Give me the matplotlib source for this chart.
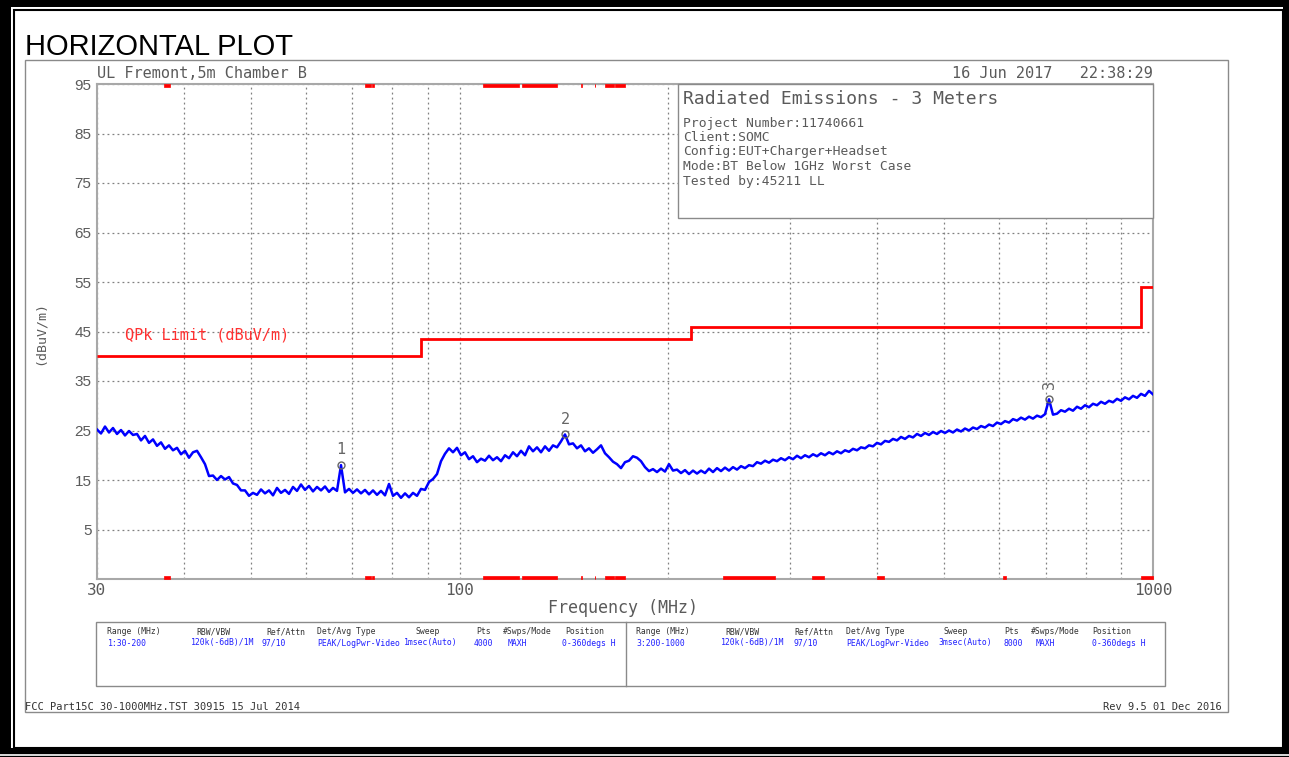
import numpy as np
import matplotlib.pyplot as plt
from matplotlib.patches import Rectangle
from matplotlib.ticker import NullFormatter

W, H = 1289, 757
MONO = 'DejaVu Sans Mono'
GREY = '#5a5a5a'

# peak sweep readings (dBuV/m), evenly spaced on the log axis 30 MHz .. 1 GHz
level_dbuv = [
    25.2, 24.4, 25.8, 24.6, 25.5, 24.3, 25.1, 24.0, 24.9, 24.1,
    24.3, 23.0, 23.9, 22.5, 23.2, 21.9, 22.6, 21.3, 22.0, 21.0,
    21.5, 20.2, 20.9, 19.5, 20.6, 20.9, 19.6, 18.2, 15.8, 15.9,
    15.0, 15.8, 15.1, 15.6, 14.3, 14.0, 12.9, 12.9, 11.8, 12.4,
    12.0, 13.1, 12.3, 12.9, 11.9, 13.4, 12.4, 13.0, 12.2, 13.6,
    12.8, 14.1, 13.0, 13.8, 12.7, 13.6, 12.9, 13.7, 12.6, 13.4,
    12.8, 18.0, 12.5, 13.2, 12.4, 13.1, 12.3, 13.0, 12.1, 12.9,
    12.0, 12.8, 11.9, 14.2, 11.8, 12.4, 11.4, 12.3, 11.5, 12.4,
    11.8, 13.2, 13.0, 14.6, 15.2, 16.2, 18.8, 20.3, 21.4, 20.6,
    21.5, 20.0, 20.6, 19.2, 19.8, 18.6, 19.3, 18.9, 19.9, 19.0,
    19.6, 18.8, 20.0, 19.4, 20.6, 19.8, 20.9, 20.0, 21.8, 20.8,
    21.6, 20.6, 21.8, 20.9, 22.0, 21.6, 22.8, 24.2, 22.2, 22.4,
    21.4, 22.0, 20.8, 21.4, 20.5, 21.2, 22.0, 20.4, 19.6, 18.7,
    18.2, 17.4, 18.6, 18.9, 19.8, 19.5, 18.8, 17.6, 16.8, 17.2,
    16.6, 17.3, 16.7, 18.2, 16.9, 17.1, 16.4, 17.0, 16.2, 16.9,
    16.3, 16.9, 16.4, 17.3, 16.6, 17.4, 16.8, 17.5, 16.9, 17.6,
    17.1, 17.8, 17.4, 18.0, 17.8, 18.6, 18.3, 18.9, 18.5, 19.1,
    18.8, 19.4, 19.0, 19.6, 19.2, 19.9, 19.4, 20.0, 19.6, 20.2,
    19.8, 20.4, 20.0, 20.6, 20.2, 20.8, 20.4, 21.0, 20.7, 21.3,
    21.0, 21.6, 21.4, 22.0, 21.8, 22.5, 22.2, 22.9, 22.7, 23.3,
    23.0, 23.7, 23.3, 23.9, 23.6, 24.3, 23.9, 24.5, 24.1, 24.7,
    24.3, 24.9, 24.5, 25.0, 24.6, 25.2, 24.8, 25.4, 25.0, 25.6,
    25.3, 25.9, 25.6, 26.2, 25.9, 26.6, 26.3, 26.9, 26.6, 27.3,
    27.0, 27.6, 27.2, 27.8, 27.4, 28.0, 27.7, 28.3, 31.3, 28.2,
    28.4, 29.1, 28.8, 29.4, 29.0, 29.8, 29.4, 30.1, 29.7, 30.4,
    30.1, 30.8, 30.4, 31.0, 30.7, 31.4, 31.0, 31.7, 31.3, 32.0,
    31.6, 32.4, 32.0, 33.0, 32.3,
]
trace_freq = np.geomspace(30, 1000, len(level_dbuv))

# marker positions (index into the sweep) and their labels
marker_idx = [61, 117, 238]
marker_lbl = ['1', '2', '3']

# QPk limit, class B, 3 m
limit_edges = [30, 88, 216, 960, 1000]
limit_dbuv = [40, 43.5, 46, 54]

# restricted bands (MHz)
bands = [(37.5, 38.25), (73, 74.6), (74.8, 75.2), (108, 121.94), (123, 138),
         (149.9, 150.05), (156.52475, 156.52525), (156.7, 156.9),
         (162.0125, 167.17), (167.72, 173.2), (240, 285), (322, 335.4),
         (399.9, 410), (608, 614), (960, 1000)]

info_title = 'Radiated Emissions - 3 Meters'
info_lines = ['Project Number:11740661', 'Client:SOMC',
              'Config:EUT+Charger+Headset', 'Mode:BT Below 1GHz Worst Case',
              'Tested by:45211 LL']

tbl_head = ['Range (MHz)', 'RBW/VBW', 'Ref/Attn', 'Det/Avg Type', 'Sweep',
            'Pts', '#Swps/Mode', 'Position']
tbl_row1 = ['1:30-200', '120k(-6dB)/1M', '97/10', 'PEAK/LogPwr-Video',
            '1msec(Auto)', '4000', 'MAXH', '0-360degs H']
tbl_row3 = ['3:200-1000', '120k(-6dB)/1M', '97/10', 'PEAK/LogPwr-Video',
            '3msec(Auto)', '8000', 'MAXH', '0-360degs H']

fig = plt.figure(figsize=(W / 100, H / 100), dpi=100)

# page axes in pixel units for frames and loose text
page = fig.add_axes([0, 0, 1, 1], zorder=0)
page.set_xlim(0, W)
page.set_ylim(H, 0)
page.axis('off')

page.add_patch(Rectangle((0, 0), W, H, facecolor='black', edgecolor='none'))
page.add_patch(Rectangle((10.5, 7), 1283 - 10.5, 748 - 7, facecolor='white', edgecolor='none'))
page.add_patch(Rectangle((13.5, 10), 1283 - 13.5, 748 - 10, fill=False, edgecolor='black', lw=1.5))
page.plot([0, W], [755, 755], color='white', lw=1.2)
page.add_patch(Rectangle((25, 60), 1203, 652, fill=False, edgecolor='#8a8a8a', lw=1))

page.text(25, 55, 'HORIZONTAL PLOT', family='Liberation Sans', fontsize=21, va='baseline')
page.text(97, 73, 'UL Fremont,5m Chamber B', family=MONO, fontsize=11, color=GREY, va='center')
page.text(1153, 73, '16 Jun 2017   22:38:29', family=MONO, fontsize=11, color=GREY,
          va='center', ha='right')
page.text(40, 333, '(dBuV/m)', family=MONO, fontsize=9.5, color=GREY, rotation=90,
          ha='center', va='center')
page.text(623, 608, 'Frequency (MHz)', family=MONO, fontsize=12, color=GREY,
          ha='center', va='center')

# settings table
page.add_patch(Rectangle((96, 622), 1165 - 96, 686 - 622, fill=False, edgecolor='#8a8a8a', lw=1))
page.plot([626, 626], [622, 686], color='#8a8a8a', lw=1)
head_x1 = [107, 196, 266, 317, 415, 476, 503, 565]
val_x1 = [108, 191, 261, 317, 404, 474, 508, 562]
head_x3 = [636, 725, 794, 846, 943, 1004, 1031, 1092]
val_x3 = [636, 721, 794, 846, 938, 1003, 1036, 1092]
for i in range(len(tbl_head)):
    page.text(head_x1[i], 632, tbl_head[i], family=MONO, fontsize=5.9, color='#333333', va='center')
    page.text(head_x3[i], 632, tbl_head[i], family=MONO, fontsize=5.9, color='#333333', va='center')
    page.text(val_x1[i], 643, tbl_row1[i], family=MONO, fontsize=5.9, color='#2020ff', va='center')
    page.text(val_x3[i], 643, tbl_row3[i], family=MONO, fontsize=5.9, color='#2020ff', va='center')

page.text(25, 707, 'FCC Part15C 30-1000MHz.TST 30915 15 Jul 2014', family=MONO,
          fontsize=7.5, color='#333333', va='center')
page.text(1222, 707, 'Rev 9.5 01 Dec 2016', family=MONO, fontsize=7.5, color='#333333',
          va='center', ha='right')

# main plot
ax = fig.add_axes([97 / W, 1 - 579 / H, 1056 / W, 495 / H], zorder=1)
ax.set_xscale('log')
ax.set_xlim(30, 1000)
ax.set_ylim(-5, 95)

ax.set_xticks([30, 100, 1000])
ax.set_xticklabels(['30', '100', '1000'], family=MONO, fontsize=11.5, color=GREY)
ax.set_xticks([40, 50, 60, 70, 80, 90, 200, 300, 400, 500, 600, 700, 800, 900], minor=True)
ax.xaxis.set_minor_formatter(NullFormatter())
ax.set_yticks(np.arange(5, 96, 10))
ax.set_yticklabels([str(v) for v in range(5, 96, 10)], family='Liberation Sans',
                   fontsize=11, color=GREY)
ax.tick_params(which='both', length=0)
ax.tick_params(axis='y', pad=4)
ax.tick_params(axis='x', pad=3)
ax.grid(which='both', color='#808080', linestyle=(0, (1.5, 2.5)), lw=0.9)
for s in ax.spines.values():
    s.set_color('#a8a8a8')
    s.set_linewidth(1.5)

for lo, hi in bands:
    ax.broken_barh([(lo, hi - lo)], (94.4, 0.6), facecolor='red', edgecolor='red', lw=0.5, zorder=3)
    ax.broken_barh([(lo, hi - lo)], (-5, 0.7), facecolor='red', edgecolor='red', lw=0.5, zorder=3)

ax.stairs(limit_dbuv, limit_edges, baseline=None, color='red', lw=2, zorder=3)
ax.text(32.9, 44.3, 'QPk Limit (dBuV/m)', family=MONO, fontsize=11, color='#ff3030', va='center')

ax.plot(trace_freq, level_dbuv, color='#0000ff', lw=1.8, zorder=4)

for i, lbl in zip(marker_idx, marker_lbl):
    f, v = trace_freq[i], level_dbuv[i]
    ax.plot(f, v, 'o', mfc='none', mec='#666666', ms=5, mew=1, zorder=5)
    ax.annotate(lbl, (f, v), xytext=(0, 11), textcoords='offset points', ha='center',
                va='center', family=MONO, fontsize=11, color='#666666',
                rotation=90 if lbl == '3' else 0, zorder=5)

# info box sits over the grid
top = fig.add_axes([0, 0, 1, 1], zorder=2)
top.set_xlim(0, W)
top.set_ylim(H, 0)
top.axis('off')
top.patch.set_alpha(0)
top.add_patch(Rectangle((678, 84), 1153 - 678, 218 - 84, facecolor='white', edgecolor='#8a8a8a', lw=1))
top.text(683, 99, info_title, family=MONO, fontsize=13, color=GREY, va='center')
for k, line in enumerate(info_lines):
    top.text(683, 123 + 14.5 * k, line, family=MONO, fontsize=9.4, color=GREY, va='center')

fig.savefig('out.png', dpi=100)
